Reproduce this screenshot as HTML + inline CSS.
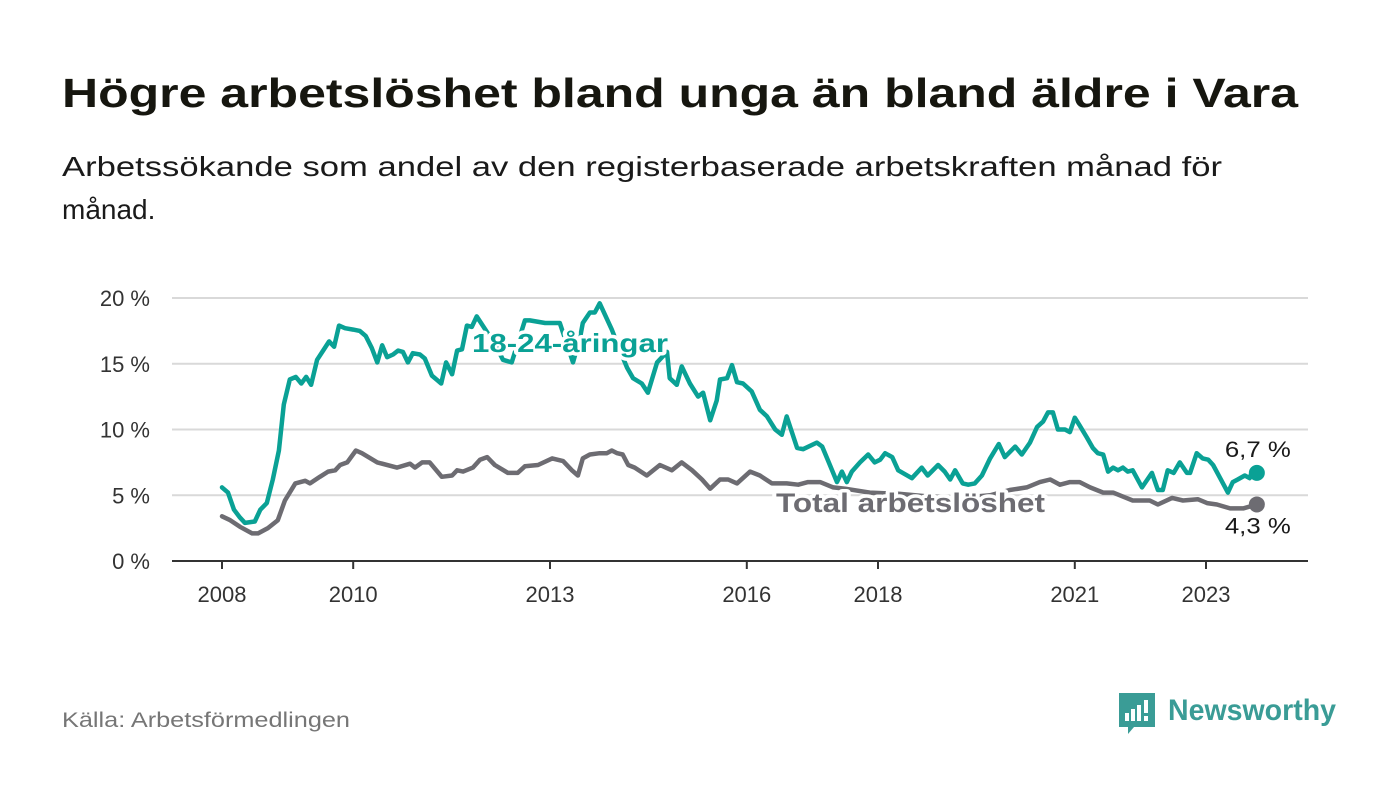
<!DOCTYPE html>
<html><head><meta charset="utf-8">
<style>
html,body{margin:0;padding:0;background:#fff;}
svg{display:block;font-family:"Liberation Sans",sans-serif;}
.halo{paint-order:stroke;stroke:#fff;stroke-width:7px;stroke-linejoin:round;}
</style></head>
<body>
<svg id="chart" width="1400" height="794" viewBox="0 0 1400 794">
  <text x="62" y="107" font-size="41" font-weight="bold" fill="#16160f" textLength="1236" lengthAdjust="spacingAndGlyphs">Högre arbetslöshet bland unga än bland äldre i Vara</text>
  <text x="62" y="176" font-size="28" fill="#1a1a1a" textLength="1160" lengthAdjust="spacingAndGlyphs">Arbetssökande som andel av den registerbaserade arbetskraften månad för</text>
  <text x="62" y="219" font-size="28" fill="#1a1a1a">månad.</text>
  <g id="grid"></g>
  <g id="yaxis"></g>
  <g id="xaxis"></g>
  <g id="series"></g>
  <g id="labels"></g>
  <text x="62" y="727" font-size="21" fill="#767676" textLength="288" lengthAdjust="spacingAndGlyphs">Källa: Arbetsförmedlingen</text>
  <g>
    <path d="M1119 693 h36 v34 h-21 l-6 7 v-7 h-9 z" fill="#3a9c96"/>
    <rect x="1125" y="713" width="4" height="8" fill="#fff"/>
    <rect x="1131" y="709" width="4" height="12" fill="#fff"/>
    <rect x="1137" y="705" width="4" height="16" fill="#fff"/>
    <rect x="1144" y="700" width="4" height="13" fill="#fff"/>
    <rect x="1144" y="716" width="4" height="5" fill="#fff"/>
    <text x="1168" y="720" font-size="30" font-weight="bold" fill="#3a9c96" textLength="168" lengthAdjust="spacingAndGlyphs">Newsworthy</text>
  </g>
</svg>
<script>
// Data: months since Jan 2008 and unemployment rates (%)
const youthMonths = [0,1.1,2.2,3.3,4.2,6,7,8.2,9.3,10.4,11.3,12.4,13.5,14.5,15.4,16.3,17.4,18.5,19.6,20.5,21.4,22.5,24,25.2,26.3,27.4,28.4,29.3,30.2,31.3,32.2,33.1,34,34.9,36.2,37.1,38.4,40.1,41,42.1,43,43.9,44.8,45.7,46.6,49.9,51.4,53,55.4,56.3,59.1,61.8,64.2,65.5,66,67.3,68.2,69.1,71.3,72.8,74.1,75.2,76.8,77.9,79.6,81.4,81.9,83.2,84.1,85.6,87.1,88,89.3,90.5,91.1,92.4,93.3,94.2,95.3,96.9,98.4,99.7,101.2,102.4,103.3,105.2,106.3,108.8,109.8,110.8,112.5,113.4,114.3,115.2,116.7,118.2,119.4,120.4,121.3,122.6,123.7,126.2,128,129.1,131,132.2,133.2,134.1,135.5,136.5,137.7,139,140.5,142.1,143.2,145.1,146.3,147.8,149.1,150.2,151.1,152,152.9,154.2,155.1,156,156.9,158.2,159.3,160.2,161.2,162.1,163,163.9,164.8,165.7,166.6,168.3,170.1,171.2,172.1,173,174.1,175.2,176.5,177.1,178.3,179.4,180.4,181.3,182.6,184,184.9,185.8,187.1,188,188.4,189.3];
const youthValues = [5.6,5.2,3.9,3.3,2.9,3.0,3.9,4.4,6.2,8.4,11.9,13.8,14.0,13.5,14.0,13.4,15.3,16.0,16.7,16.3,17.9,17.7,17.6,17.5,17.1,16.2,15.1,16.4,15.5,15.7,16.0,15.9,15.1,15.8,15.7,15.4,14.1,13.5,15.1,14.2,16.0,16.1,17.9,17.8,18.6,16.5,15.3,15.1,18.3,18.3,18.1,18.1,15.1,17.0,18.1,18.9,18.9,19.6,17.6,16.0,14.7,13.9,13.5,12.8,15.1,15.9,13.9,13.4,14.8,13.5,12.5,12.8,10.7,12.2,13.8,13.9,14.9,13.6,13.5,12.9,11.5,11.0,10.0,9.6,11.0,8.6,8.5,9.0,8.7,7.7,6.0,6.8,6.0,6.8,7.5,8.1,7.5,7.7,8.2,7.9,6.9,6.3,7.1,6.5,7.3,6.8,6.2,6.9,5.9,5.8,5.9,6.5,7.8,8.9,7.9,8.7,8.1,9.0,10.2,10.6,11.3,11.3,10.0,10.0,9.8,10.9,10.3,9.4,8.6,8.2,8.1,6.8,7.1,6.9,7.1,6.8,6.9,5.6,6.7,5.4,5.4,6.9,6.7,7.5,6.7,6.7,8.2,7.8,7.7,7.3,6.3,5.2,6.0,6.2,6.5,6.3,6.8,6.7];
const totalMonths = [0,1.5,3.3,5.5,6.6,8.4,10.2,11.5,13.4,15.2,16.1,17.9,19.4,20.7,21.6,22.9,24.5,25.6,28.4,32,34.4,35.3,36.6,38,40.2,42.1,43,44.1,45.9,47.2,48.5,49.9,52.3,54.1,55.4,57.8,60.4,62.4,64,65.1,66,67.3,69.1,70.4,71.3,72.3,73.3,74.3,75.5,77.7,80.1,82.3,84.1,86,87.8,89.3,91.1,92.6,94.2,96.6,98.4,100.6,103.3,105.4,107.2,109.4,111.8,114,118.5,124,129.5,135,140.5,144.1,147.2,149.6,151.5,153.3,155.1,156.9,158.8,161.2,163,164.8,166.6,169.7,171.2,173.8,175.8,178.5,180.2,182,184.4,186.8,189.3];
const totalValues = [3.4,3.1,2.6,2.1,2.1,2.5,3.1,4.6,5.9,6.1,5.9,6.4,6.8,6.9,7.3,7.5,8.4,8.2,7.5,7.1,7.4,7.1,7.5,7.5,6.4,6.5,6.9,6.8,7.1,7.7,7.9,7.3,6.7,6.7,7.2,7.3,7.8,7.6,6.9,6.5,7.8,8.1,8.2,8.2,8.4,8.2,8.1,7.3,7.1,6.5,7.3,6.9,7.5,6.9,6.2,5.5,6.2,6.2,5.9,6.8,6.5,5.9,5.9,5.8,6.0,6.0,5.6,5.5,5.2,5.1,4.9,4.8,5.0,5.4,5.6,6.0,6.2,5.8,6.0,6.0,5.6,5.2,5.2,4.9,4.6,4.6,4.3,4.8,4.6,4.7,4.4,4.3,4.0,4.0,4.3];
const yTicks = [0,5,10,15,20];
const yTickLabels = ["0 %","5 %","10 %","15 %","20 %"];
const xTickYears = [2008,2010,2013,2016,2018,2021,2023];
const youthLast = "6,7 %";
const totalLast = "4,3 %";

const NS = "http://www.w3.org/2000/svg";
const X0 = 222, PX_PER_MONTH = 65.6/12, Y0 = 561, PX_PER_PCT = 13.15;
function xScale(m){ return X0 + m*PX_PER_MONTH; }
function yScale(v){ return Y0 - v*PX_PER_PCT; }
function mk(tag, attrs, parent){
  const el = document.createElementNS(NS, tag);
  for (const k in attrs) el.setAttribute(k, attrs[k]);
  parent.appendChild(el);
  return el;
}
const grid = document.getElementById('grid');
const yaxis = document.getElementById('yaxis');
const xaxis = document.getElementById('xaxis');
const series = document.getElementById('series');
const labels = document.getElementById('labels');

yTicks.forEach((t,i)=>{
  if (t > 0) {
    const g = mk('line',{x1:172,x2:1308,y1:yScale(t),y2:yScale(t),stroke:'#d9d9d9','stroke-width':2}, grid);
    
    
  }
  const tl = mk('text',{x:150,y:yScale(t)+8,'text-anchor':'end','font-size':22,fill:'#333'}, yaxis);
  tl.textContent = yTickLabels[i];
  
  
});
const ax = mk('line',{x1:172,x2:1308,y1:Y0,y2:Y0,stroke:'#333','stroke-width':2}, xaxis);


xTickYears.forEach(yr=>{
  const x = xScale((yr-2008)*12);
  const tk = mk('line',{x1:x,x2:x,y1:Y0,y2:Y0+8,stroke:'#333','stroke-width':2}, xaxis);
  
  
  const tl = mk('text',{x:x,y:602,'text-anchor':'middle','font-size':22,fill:'#333'}, xaxis);
  tl.textContent = String(yr);
  
  
});

function drawLine(ms, vs, color){
  const d = ms.map((m,i)=>(i?'L':'M')+xScale(m).toFixed(1)+' '+yScale(vs[i]).toFixed(1)).join(' ');
  return mk('path',{d:d,fill:'none',stroke:color,'stroke-width':4.5,'stroke-linejoin':'round','stroke-linecap':'round'}, series);
}
const tLine = drawLine(totalMonths, totalValues, '#6d6c72');


const yLine = drawLine(youthMonths, youthValues, '#0aa195');



const tEndM = totalMonths[totalMonths.length-1], tEndV = totalValues[totalValues.length-1];
const yEndM = youthMonths[youthMonths.length-1], yEndV = youthValues[youthValues.length-1];
const td = mk('circle',{cx:xScale(tEndM),cy:yScale(tEndV),r:8,fill:'#6d6c72'}, series);


const yd = mk('circle',{cx:xScale(yEndM),cy:yScale(yEndV),r:8,fill:'#0aa195'}, series);



const l1 = mk('text',{x:472,y:352,'font-size':26,'font-weight':'bold',fill:'#0aa195',class:'halo',textLength:196,lengthAdjust:'spacingAndGlyphs'}, labels);
l1.textContent = '18-24-åringar';


const l2 = mk('text',{x:776,y:512,'font-size':27,'font-weight':'bold',fill:'#6d6c72',class:'halo',textLength:269,lengthAdjust:'spacingAndGlyphs'}, labels);
l2.textContent = 'Total arbetslöshet';


const v1 = mk('text',{x:xScale(yEndM)-32,y:yScale(yEndV)-16,'font-size':22,fill:'#1a1a1a',class:'halo',textLength:66,lengthAdjust:'spacingAndGlyphs'}, labels);
v1.textContent = youthLast;


const v2 = mk('text',{x:xScale(tEndM)-32,y:yScale(tEndV)+29,'font-size':22,fill:'#1a1a1a',class:'halo',textLength:66,lengthAdjust:'spacingAndGlyphs'}, labels);
v2.textContent = totalLast;


</script>
</body></html>
